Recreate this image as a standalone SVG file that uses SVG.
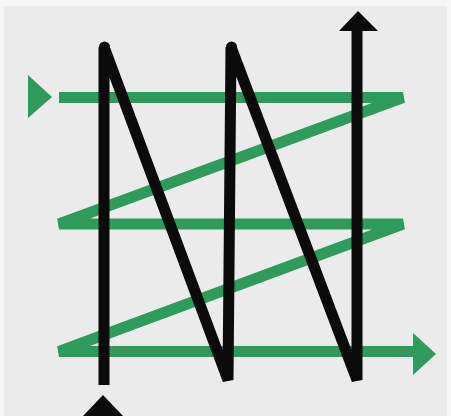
<svg xmlns="http://www.w3.org/2000/svg" width="451" height="416" viewBox="0 0 451 416">
<style>
.green{fill:none;stroke:#2e9b5c;stroke-width:11;stroke-linejoin:bevel;stroke-linecap:butt}
.gfill{fill:#2e9b5c}
.black{fill:none;stroke:#0b0b0b;stroke-width:11;stroke-linejoin:bevel;stroke-linecap:butt}
.bfill{fill:#0b0b0b}
</style>
<rect x="0" y="0" width="451" height="416" fill="#f6f6f6"/>
<rect x="4" y="6" width="443" height="410" fill="#ebebeb"/>
<g id="green-flow">
<polygon class="gfill" points="28,75 28,118 52,97"/>
<path class="green" d="M59,97.5 H403 L59,224 H403 L59,351.5 H415"/>
<polygon class="gfill" points="413,333 413,375 436,354"/>
</g>
<g id="black-flow">
<polygon class="bfill" points="83,416 123,416 103,395"/>
<path class="black" d="M104,385 V47 L228,380 L231,47 L357,380 V28"/>
<circle class="bfill" cx="104.5" cy="47" r="5.5"/>
<circle class="bfill" cx="231.5" cy="47" r="5.5"/>
<polygon class="bfill" points="339,31 378,31 358,11"/>
</g>
</svg>
